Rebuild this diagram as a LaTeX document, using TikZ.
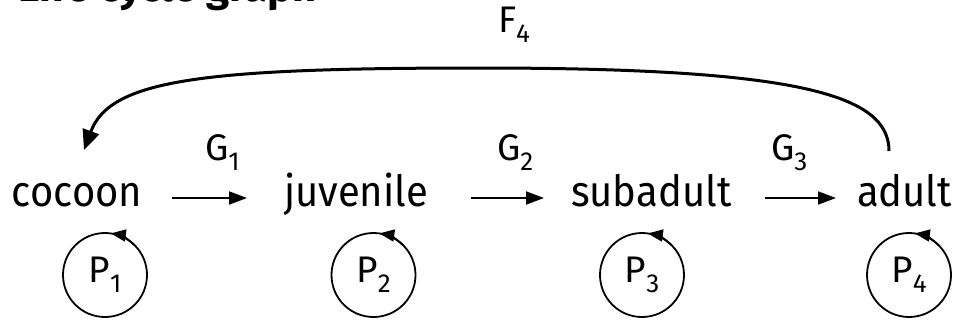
\documentclass[tikz,border=0pt]{standalone}
\usepackage{fontspec}
\setmainfont{Fira Sans}
\newfontfamily\stagefont[FakeStretch=0.93]{Fira Sans}
\usetikzlibrary{arrows.meta}
\newcommand{\lab}[2]{#1\raisebox{-10pt}{\fontsize{26}{26}\selectfont #2}}
\tikzset{
  stage/.style={font=\stagefont\fontsize{43}{43}\selectfont, inner sep=0pt, outer sep=0pt, anchor=base west},
  lbl/.style={font=\fontsize{37}{37}\selectfont, inner sep=0pt, outer sep=0pt, anchor=base west},
  loopc/.style={circle, draw, line width=1.8pt, minimum size=84pt, inner sep=0pt, outer sep=0pt,
                font=\fontsize{37}{37}\selectfont},
  arr/.style={line width=1.9pt, -{Triangle[length=18pt,width=13pt]}},
  looparr/.style={line width=1.8pt, -{Triangle[length=15pt,width=12pt]}},
  backarr/.style={line width=3pt, -{Triangle[length=20pt,width=17pt]}},
}
\begin{document}
\begin{tikzpicture}[x=1pt,y=1pt]
\useasboundingbox (0,0) rectangle (955,-321);
\clip (0,0) rectangle (955,-321);
\node[anchor=base west, inner sep=0pt, font=\bfseries\fontsize{42}{42}\selectfont] (title) at (18,-1.5) {Life cycle graph};
% stages
\node[stage] (c) at (12,-206) {cocoon};
\node[stage] (j) at (284,-206) {juvenile};
\node[stage] (s) at (571,-206) {subadult};
\node[stage] (a) at (857,-206) {adult};
% transition labels
\node[lbl] (g1) at (205,-160) {\lab{G}{1}};
\node[lbl] (g2) at (497,-160) {\lab{G}{2}};
\node[lbl] (g3) at (771,-160) {\lab{G}{3}};
\node[lbl] (f4) at (498,-33) {\lab{F}{4}};
% arrows
\draw[arr] ([shift={(30pt,8pt)}]c.base east) -- ([shift={(-37pt,8pt)}]j.base west);
\draw[arr] ([shift={(43pt,8pt)}]j.base east) -- ([shift={(-27pt,8pt)}]s.base west);
\draw[arr] ([shift={(34pt,8pt)}]s.base east) -- ([shift={(-21pt,8pt)}]a.base west);
% fecundity
\coordinate (fs) at (889,-151);
\coordinate (fe) at (84,-150);
\draw[backarr] (fs) .. controls (889,-95) and (800,-68) .. (480,-68)
                    .. controls (200,-68) and (110,-80) .. (fe);
% loops
\node[loopc] (p1) at (105,-275) {\lab{P}{1}};
\node[loopc] (p2) at (373.5,-275) {\lab{P}{2}};
\node[loopc] (p3) at (642,-275) {\lab{P}{3}};
\node[loopc] (p4) at (909,-275) {\lab{P}{4}};
\foreach \p in {p1,p2,p3,p4}{
  \draw[looparr] (\p.45) arc[start angle=45, end angle=82, radius=42pt];
}
\end{tikzpicture}
\end{document}
